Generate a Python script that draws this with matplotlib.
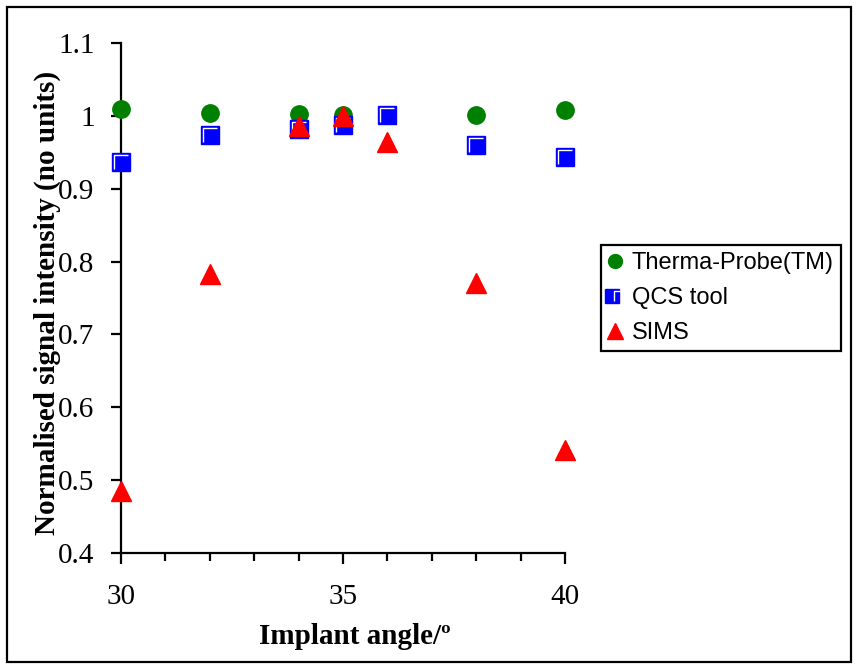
import matplotlib
matplotlib.use("Agg")
import matplotlib.pyplot as plt
from matplotlib.path import Path
from matplotlib.patches import Rectangle
from matplotlib.legend_handler import HandlerTuple

# ---- data ----
therma_x = [30, 32, 34, 35, 38, 40]
therma_y = [1.009, 1.004, 1.002, 1.001, 1.001, 1.008]
qcs_x = [30, 32, 34, 35, 36, 38, 40]
qcs_y = [0.936, 0.974, 0.982, 0.987, 1.001, 0.960, 0.943]
sims_x = [30, 32, 34, 35, 36, 38, 40]
sims_y = [0.485, 0.783, 0.986, 1.000, 0.964, 0.771, 0.542]
labels = ["Therma-Probe(TM)", "QCS tool", "SIMS"]
yticks = [0.4, 0.5, 0.6, 0.7, 0.8, 0.9, 1.0, 1.1]
ytick_labels = ["0.4", "0.5", "0.6", "0.7", "0.8", "0.9", "1", "1.1"]
xticks_major = [30, 35, 40]

W, H = 858, 669
fig = plt.figure(figsize=(W / 100, H / 100), dpi=100)
fig.patch.set_facecolor("white")

ax = fig.add_axes([121 / W, 1 - 553 / H, 444 / W, 510 / H])
ax.set_xlim(30, 40)
ax.set_ylim(0.4, 1.1)

serif = "Liberation Serif"
sans = "Liberation Sans"

h1, = ax.plot(therma_x, therma_y, linestyle="none", marker="o", ms=12.5,
              color="#008000", mec="#008000", clip_on=False, zorder=3)
h2, = ax.plot(qcs_x, qcs_y, linestyle="none", marker="s", ms=12.5,
              color="#0000ff", mec="#0000ff", clip_on=False, zorder=4)
Lpath = Path([(-1, -1), (-1, 1), (1, 1)], [Path.MOVETO, Path.LINETO, Path.LINETO])
h2b, = ax.plot(qcs_x, qcs_y, linestyle="none", marker=Lpath, ms=9.5,
               mfc="none", mec="white", mew=1.0, clip_on=False, zorder=4)
h3, = ax.plot(sims_x, sims_y, linestyle="none", marker="^", ms=14,
              color="#ff0000", mec="#ff0000", clip_on=False, zorder=5)

for s in ["top", "right"]:
    ax.spines[s].set_visible(False)
for s in ["left", "bottom"]:
    ax.spines[s].set_linewidth(1.6)

ax.set_yticks(yticks)
ax.set_yticklabels(ytick_labels, fontfamily=serif, fontsize=21)
ax.set_xticks(xticks_major)
ax.set_xticklabels([str(v) for v in xticks_major], fontfamily=serif, fontsize=21)
ax.set_xticks(range(30, 41), minor=True)
ax.tick_params(axis="y", direction="out", length=7, width=1.6, pad=12)
ax.tick_params(axis="x", which="major", direction="out", length=8, width=1.6, pad=14)
ax.tick_params(axis="x", which="minor", direction="out", length=6, width=1.6)

fig.text(355 / W, 1 - 637 / H, "Implant angle/º", fontfamily=serif,
         fontweight="bold", fontsize=21, ha="center", va="center")
fig.text(47 / W, 1 - 303 / H, "Normalised signal intensity (no units)",
         fontfamily=serif, fontweight="bold", fontsize=21, rotation=90,
         ha="center", va="center")

leg = fig.legend([h1, (h2, h2b), h3], labels,
                 handler_map={tuple: HandlerTuple(ndivide=None, pad=0)},
                 loc="upper left", bbox_to_anchor=(601 / W, 1 - 245 / H),
                 prop={"family": sans, "size": 17}, frameon=True,
                 fancybox=False, edgecolor="black", framealpha=1,
                 markerscale=0.8, handlelength=0.6, handletextpad=0.4,
                 borderpad=0.3, labelspacing=0.55, borderaxespad=0)
leg.get_frame().set_linewidth(1.6)

fig.patches.append(Rectangle((7 / W, 7 / H), (851 - 7) / W, (662 - 7) / H,
                             transform=fig.transFigure, fill=False,
                             edgecolor="black", linewidth=1.6))

fig.savefig("out.png", dpi=100)
